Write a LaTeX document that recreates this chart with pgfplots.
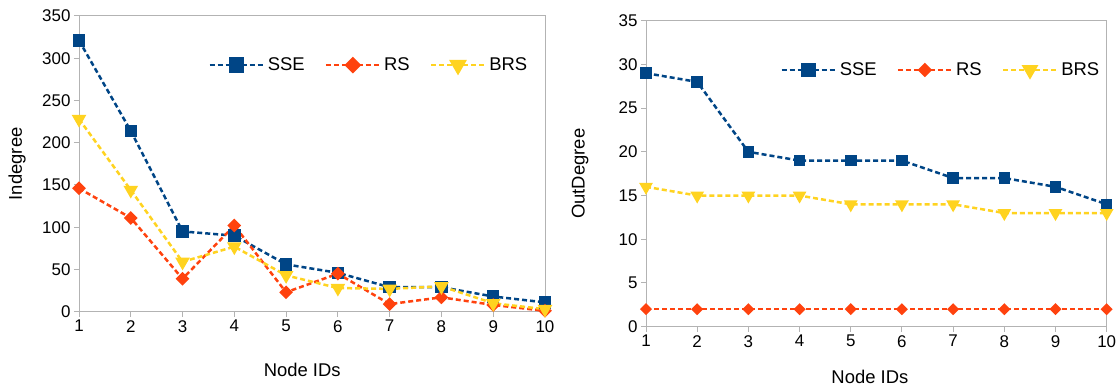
\documentclass[border=0pt]{standalone}
\usepackage{fontspec}
\setmainfont{Liberation Sans}
\usepackage{pgfplots}
\pgfplotsset{compat=1.18}

\definecolor{sse}{HTML}{004586}
\definecolor{rs}{HTML}{FF420E}
\definecolor{brs}{HTML}{FFD320}
\definecolor{frame}{HTML}{B3B3B3}

\pgfplotsset{
  degstyle/.style={
    scale only axis,
    xmin=1, xmax=10, ymin=0,
    xtick={1,...,10},
    axis line style={frame, line width=1bp},
    tick style={frame, line width=1bp},
    tick align=outside, tick pos=left,
    major tick length=5bp,
    /pgf/number format/assume math mode=true,
    ticklabel style={font=\fontsize{17}{20}\selectfont, text=black},
    label style={font=\fontsize{18.5}{22}\selectfont},
    legend style={draw=none, fill=none, inner sep=0pt,
      font=\fontsize{18.5}{22}\selectfont,
      legend columns=3,
      nodes={inner sep=3bp},
      /tikz/every even column/.append style={column sep=17bp}},
    legend cell align=left,
    legend image code/.code={%
      \draw[mark repeat=2, mark phase=2, #1, every mark/.append style={scale=1.3}]
        plot coordinates {(0bp,0bp) (27bp,0bp) (54bp,0bp)};},
  },
  sseline/.style={color=sse, line width=2.5bp, dash pattern=on 5bp off 3bp,
    mark=square*, mark size=5bp, mark options={solid}},
  rsline/.style={color=rs, line width=2.5bp, dash pattern=on 5bp off 3bp,
    mark=square*, mark size=3.6bp, mark options={solid, rotate=45}},
  brsline/.style={color=brs, line width=2.5bp, dash pattern=on 5bp off 3bp,
    mark=triangle*, mark size=6bp, mark options={solid, rotate=180}},
}

\begin{document}
\begin{tikzpicture}
\path[use as bounding box] (0,0) rectangle (1117bp,387bp);

% In-degree per node
\begin{axis}[degstyle,
  at={(79bp,75.3bp)}, anchor=south west,
  width=466bp, height=295.7bp,
  ymax=350, ytick={0,50,...,350},
  xlabel={Node IDs}, ylabel={Indegree},
  xlabel style={at={(axis description cs:0.479,-0.197)}, anchor=center},
  ylabel style={at={(axis description cs:-0.133,0.5)}, anchor=center},
  legend style={at={(axis description cs:0.277,0.834)}, anchor=west},
]
\addplot[sseline] coordinates {(1,321) (2,214) (3,95) (4,90) (5,56) (6,46) (7,29) (8,29) (9,18) (10,11)};
\addplot[rsline] coordinates {(1,146) (2,111) (3,39) (4,102) (5,23) (6,45) (7,9) (8,17) (9,8) (10,1)};
\addplot[brsline] coordinates {(1,228) (2,144) (3,59) (4,77) (5,43) (6,28) (7,27) (8,30) (9,10) (10,3)};
\legend{SSE, RS, BRS}
\end{axis}

% Out-degree per node
\begin{axis}[degstyle,
  at={(646bp,60.3bp)}, anchor=south west,
  width=460.7bp, height=306bp,
  ymax=35, ytick={0,5,...,35},
  xlabel={Node IDs}, ylabel={OutDegree},
  xlabel style={at={(axis description cs:0.486,-0.163)}, anchor=center},
  ylabel style={at={(axis description cs:-0.143,0.5)}, anchor=center},
  legend style={at={(axis description cs:0.291,0.839)}, anchor=west},
]
\addplot[sseline, mark size=4.5bp] coordinates {(1,29) (2,28) (3,20) (4,19) (5,19) (6,19) (7,17) (8,17) (9,16) (10,14)};
\addplot[rsline, mark size=3bp] coordinates {(1,2) (2,2) (3,2) (4,2) (5,2) (6,2) (7,2) (8,2) (9,2) (10,2)};
\addplot[brsline, mark size=5.5bp] coordinates {(1,16) (2,15) (3,15) (4,15) (5,14) (6,14) (7,14) (8,13) (9,13) (10,13)};
\legend{SSE, RS, BRS}
\end{axis}
\end{tikzpicture}
\end{document}
